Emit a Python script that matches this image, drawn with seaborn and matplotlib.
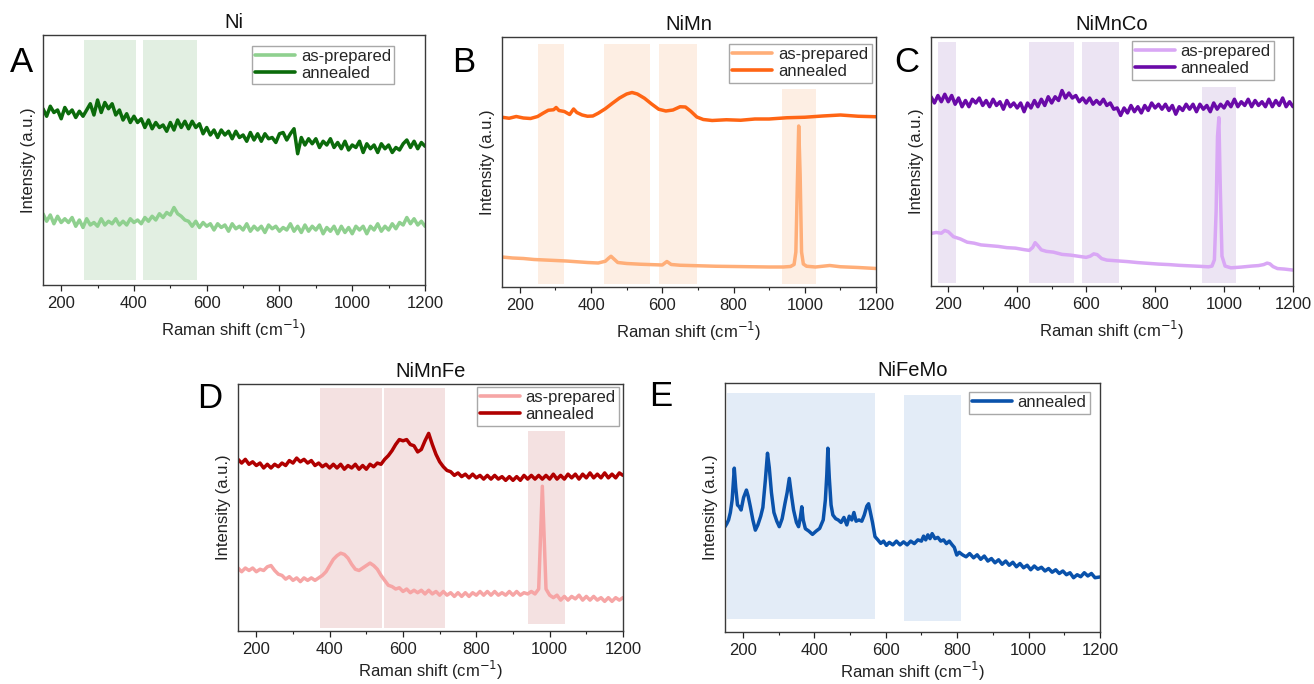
import numpy as np
import matplotlib.pyplot as plt
import seaborn as sns

sns.set_style("ticks")
plt.rcParams['font.family'] = ['Liberation Sans', 'DejaVu Sans']

# shared x grid (Raman shift, cm-1) for the noisy spectra
grid10 = np.arange(150, 1201, 10)

# ---- panel A: Ni ----
ni_prep = [28.5, 25.5, 28, 24.5, 27.5, 25, 26.5, 25, 27, 23.5,
           26, 23, 26.5, 24, 25, 23.5, 26.5, 24, 25.5, 24.5,
           26.5, 24, 25.5, 24, 26.5, 25, 26, 24.5, 27, 25.5,
           27.5, 26, 28.5, 27, 29, 28, 31, 28.5, 27.5, 26,
           25.5, 23.5, 25.5, 23, 25, 23.5, 24.5, 22, 24.5, 23,
           24, 21.5, 24.5, 22.5, 23.5, 22, 24.5, 21.5, 23.5, 22,
           23.5, 21, 24, 22.5, 23.5, 21.5, 23, 22, 24.5, 21.5,
           23.5, 21, 24, 21.5, 23.5, 22, 24, 20.5, 23, 21.5,
           23.5, 20.5, 23.5, 21, 23, 20.5, 23.5, 22, 23.5, 20.5,
           23.5, 22, 24.5, 21.5, 23.5, 22, 24.5, 22.5, 25, 24,
           27, 24.5, 26.5, 24, 25.5, 23.5]
ni_ann = [70.5, 67.5, 71.5, 69, 70, 66.5, 71, 68.5, 70, 67,
          69.5, 67.5, 70, 72.5, 68, 74, 69, 73, 70.5, 72.5,
          68, 70, 66, 68.5, 65, 67.5, 65, 66.5, 63, 66,
          62.5, 65, 63, 64, 61.5, 65, 62, 66, 63, 65.5,
          62.5, 65.5, 63, 64.5, 60.5, 63, 60, 62, 59, 62,
          60, 61.5, 58.5, 61.5, 59, 60, 57.5, 61, 58, 60.5,
          57.5, 60.5, 58.5, 59, 57, 60.5, 61, 58, 60.5, 62.5,
          52.5, 59, 56, 58.5, 56.5, 58.5, 55, 57.5, 56, 58.5,
          55, 57, 54.5, 57.5, 54, 56, 55, 57.5, 53, 56.5,
          54.5, 56, 53, 56.5, 54.5, 56, 53, 55, 54, 56.5,
          58, 55, 57.5, 54.5, 57, 55.5]

# ---- panel B: NiMn ----
nimn_ann_x = [150, 170, 190, 210, 230, 250, 265, 280, 295, 302, 310, 325, 340, 351, 360,
              375, 390, 405, 420, 440, 460, 480, 500, 515, 530, 550, 570, 590, 610, 630,
              650, 665, 680, 697, 715, 740, 780, 820, 860, 900, 950, 1000, 1050, 1100, 1150, 1200]
nimn_ann = [67.9, 67.5, 68.2, 67.6, 67.4, 68.2, 69.5, 70.7, 70.9, 71.8, 70.6, 70.2, 69.0, 71.2, 69.8,
            68.8, 68.3, 68.4, 69.5, 71.3, 73.5, 75.6, 77.2, 77.8, 77.2, 75.5, 73.2, 71.1, 70.4, 70.8,
            72.1, 72.0, 70.3, 68.0, 67.0, 66.6, 66.9, 66.7, 67.2, 67.2, 67.7, 67.9, 68.4, 68.8, 68.3, 68.1]
nimn_prep_x = [150, 180, 210, 240, 270, 300, 330, 360, 390, 420, 440, 450, 456, 462, 475,
               500, 540, 580, 600, 613, 625, 650, 700, 750, 800, 850, 900, 940, 960, 970,
               975, 979, 983, 987, 991, 996, 1005, 1030, 1070, 1100, 1150, 1200]
nimn_prep = [12.0, 11.6, 11.4, 11.0, 10.8, 10.6, 10.4, 10.1, 9.8, 9.6, 10.3, 11.6, 12.3, 11.5, 9.8,
             9.4, 9.1, 8.9, 8.8, 10.2, 9.0, 8.7, 8.5, 8.3, 8.2, 8.1, 8.0, 8.0, 8.2, 9.0,
             14, 40, 64.4, 45, 14, 9.2, 8.3, 8.0, 8.6, 8.1, 7.8, 7.4]

# ---- panel C: NiMnCo ----
nimnco_ann = [76, 73.5, 76.5, 74, 77, 74, 76.5, 73, 75.5, 72,
              74.5, 72, 75, 73.5, 75.5, 72.5, 74.5, 72, 75, 72.5,
              74, 71, 74.5, 72, 73.5, 71.5, 73.5, 70, 73.5, 71.5,
              74.5, 72, 75, 72.5, 76, 73.5, 76, 74.5, 78.5, 75.5,
              77.5, 75.5, 76.5, 74, 75.5, 73.5, 75.5, 73, 74.5, 73,
              75, 72.5, 73.5, 71, 71.5, 68.5, 71.5, 69.5, 72.5, 70,
              72, 69.5, 72.5, 70.5, 73.5, 71.5, 73, 71, 73, 70.5,
              72.5, 69, 72, 70.5, 73, 71, 73, 70, 73, 71,
              72.5, 70, 73.5, 71, 73, 71.5, 74, 72, 75, 72,
              74, 72.5, 75, 72, 74.5, 72.5, 74, 72, 75, 72,
              74.5, 72.5, 75.5, 72, 74, 72]
nimnco_prep_x = [150, 165, 180, 190, 200, 215, 235, 255, 275, 295, 320, 345, 370, 395, 420,
                 435, 445, 452, 460, 470, 485, 505, 530, 555, 580, 600, 612, 622, 632, 645,
                 660, 690, 720, 750, 780, 810, 840, 870, 900, 930, 955, 965, 972, 977, 981,
                 985, 989, 994, 1003, 1020, 1050, 1080, 1100, 1115, 1125, 1133, 1142, 1155, 1175, 1200]
nimnco_prep = [21.1, 21.5, 21.2, 22.3, 21.8, 19.8, 18.9, 17.6, 17.2, 16.5, 16.2, 15.9, 15.4, 15.2, 14.6,
               14.3, 15.5, 17.4, 16.2, 14.5, 13.9, 13.6, 12.7, 12.4, 11.9, 11.5, 12.0, 12.9, 12.6, 11.0,
               10.4, 10.1, 9.8, 9.4, 9.1, 8.8, 8.6, 8.3, 8.1, 7.9, 7.7, 8.0, 10.5, 30, 60,
               67.6, 40, 12, 8.0, 7.3, 7.6, 8.0, 8.2, 8.6, 9.2, 8.9, 7.8, 7.0, 6.8, 6.4]

# ---- panel D: NiMnFe ----
nimnfe_prep = [25.5, 24, 25.5, 24.5, 25.5, 24, 25, 24.5, 26, 26.5,
               24.5, 23, 22.5, 21, 22, 20.5, 21.5, 20, 21.5, 20.5,
               21.5, 20.5, 21.5, 22.5, 24, 26.5, 29, 30.5, 31.5, 31,
               29.5, 27, 25, 24.5, 25.5, 26.5, 27.5, 26.5, 25, 22.5,
               20.5, 18.5, 18, 17, 17.5, 16, 17, 15.5, 16.5, 15.5,
               16.5, 15, 16.5, 15, 16, 14.5, 16, 14.5, 15.5, 14,
               15.5, 14, 15.5, 14, 15.5, 14.5, 16, 14.5, 16, 14.5,
               16, 14.5, 15.5, 14.5, 16, 14.5, 16, 14.5, 15.5, 15,
               16, 15, 17, 58.6, 17, 14.5, 13.5, 14.5, 12.5, 14,
               12.5, 14, 13, 14.5, 12.5, 14, 12.5, 14, 12.5, 13.5,
               12, 13.5, 12, 13.5, 12.5, 13.5]
nimnfe_ann = [69.5, 68, 69.5, 67.5, 68.5, 67, 68, 66, 67.5, 66,
              67.5, 66.5, 68, 67, 69, 68, 70, 68.5, 69.5, 68,
              69, 67, 68, 66.5, 67.5, 66, 67.5, 66, 67.5, 65.5,
              67, 66, 67.5, 65.5, 67, 65.5, 67.5, 66.5, 68, 67.5,
              69.5, 71, 73, 75.5, 77.5, 77, 77.5, 75.5, 75, 72.5,
              73.5, 77, 80, 75.5, 71.5, 68.5, 66.5, 65, 64.5, 63,
              64, 62.5, 63.5, 62, 63.5, 62, 63, 61.5, 63, 61.5,
              63, 61.5, 62.5, 61, 62.5, 61, 62.5, 61, 63, 61.5,
              63, 61.5, 63, 61.5, 63, 61.5, 63.5, 61.5, 63, 61.5,
              63.5, 62, 63.5, 61.5, 63.5, 62, 64, 62, 63.5, 62,
              64, 62, 63.5, 62, 64, 63]

# ---- panel E: NiFeMo (shift, intensity) ----
nifemo_ann = [(150, 42.3), (155, 43.5), (160, 45), (165, 48), (170, 53), (176, 65.8), (180, 58),
              (185, 51), (190, 50.3), (195, 49), (202, 54), (210, 57), (215, 54.5), (221, 50.3),
              (228, 45), (235, 40.9), (242, 43), (250, 46.5), (256, 50), (263, 61), (269, 71.8),
              (274, 66), (280, 56), (287, 48), (295, 44.5), (302, 42.3), (310, 45.5), (318, 51.7),
              (324, 56), (330, 61.7), (336, 55), (342, 49), (350, 44), (356, 42.3), (361, 46),
              (365, 50.3), (369, 45), (375, 41.5), (385, 40.5), (395, 39.2), (405, 40.5), (415, 41.6),
              (425, 45), (431, 53), (435, 63), (438, 73.8), (442, 62), (447, 51), (452, 47),
              (460, 45.5), (467, 45), (475, 44), (483, 46), (491, 43), (498, 46.5), (505, 45),
              (511, 48), (517, 44.5), (525, 45), (533, 44.5), (540, 47), (547, 50.5), (552, 51.5),
              (557, 48), (563, 44), (570, 38.3), (578, 37), (586, 35.6), (594, 36.5), (602, 34.8),
              (610, 36), (620, 35), (630, 36.5), (640, 35), (650, 36.2), (660, 35), (670, 36.5),
              (680, 35.5), (690, 37), (700, 36.5), (706, 38.5), (712, 37), (718, 39), (724, 37.5),
              (730, 39.5), (738, 37.5), (746, 38), (754, 36.5), (762, 37), (770, 35.5), (778, 36.5),
              (786, 35), (792, 34), (799, 30.9), (806, 32), (815, 31), (825, 30.2), (835, 31.5),
              (846, 29.8), (856, 31), (866, 29.2), (876, 30.5), (886, 28.5), (896, 29.5), (906, 27.8),
              (916, 29), (926, 27.2), (936, 28.5), (946, 26.8), (956, 28), (966, 26.2), (976, 27.5),
              (986, 25.8), (996, 26.8), (1006, 25), (1016, 26.5), (1026, 25.2), (1036, 26), (1046, 24.5),
              (1056, 25.5), (1066, 24), (1076, 25), (1086, 23.5), (1096, 24.5), (1106, 23), (1116, 23.8),
              (1126, 21.8), (1136, 23), (1146, 22.2), (1156, 23.8), (1166, 22.5), (1176, 23.5),
              (1186, 21.8), (1200, 22.1)]

W, H = 1314, 684
fig = plt.figure(figsize=(W / 100, H / 100), dpi=100)
FS = 12


def make_ax(left, right, top, bottom, xpad=5):
    ax = fig.add_axes([left / W, 1 - bottom / H, (right - left) / W, (bottom - top) / H])
    ax.set_xlim(150, 1200)
    ax.set_ylim(0, 100)
    ax.set_yticks([])
    ax.set_xticks(range(200, 1201, 200))
    ax.set_xticks(range(300, 1200, 200), minor=True)
    ax.tick_params(axis='x', which='major', direction='out', length=4, width=0.9,
                   labelsize=FS, colors='#222222', pad=4)
    ax.tick_params(axis='x', which='minor', direction='out', length=2.5, width=0.8, colors='#222222')
    for s in ax.spines.values():
        s.set_visible(True)
        s.set_linewidth(1.0)
        s.set_color('#3a3a3a')
    ax.set_ylabel('Intensity (a.u.)', fontsize=FS, labelpad=5, color='#222222')
    ax.set_xlabel('Raman shift (cm$^{-1}$)', fontsize=FS, labelpad=xpad, color='#222222')
    return ax


def finish(ax, title, anchor):
    ax.set_title(title, fontsize=14.5, pad=5, color='#111111')
    leg = ax.legend(loc='upper right', bbox_to_anchor=anchor, borderaxespad=0,
                    fontsize=FS, frameon=True, fancybox=False, framealpha=1,
                    edgecolor='#a8a8a8', handlelength=2.4, handletextpad=0.35,
                    labelspacing=0.12, borderpad=0.2)
    leg.get_frame().set_linewidth(1.0)
    for ln in leg.get_lines():
        ln.set_linewidth(2.6)


lw = 2.5

# A
ax = make_ax(43, 425, 35, 285)
for a, b in [(262, 406), (425, 574)]:
    ax.axvspan(a, b, 0.02, 0.98, color='#e2efe2', lw=0)
sns.lineplot(x=grid10, y=ni_prep, ax=ax, color='#8fd08f', lw=lw, label='as-prepared')
sns.lineplot(x=grid10, y=ni_ann, ax=ax, color='#0b6b0b', lw=lw, label='annealed')
finish(ax, 'Ni', (0.92, 0.958))

# B
ax = make_ax(502, 876, 37, 287)
for a, b in [(251, 323), (435, 566), (591, 697)]:
    ax.axvspan(a, b, 0.013, 0.973, color='#fdeee3', lw=0)
ax.axvspan(935, 1032, 0.013, 0.79, color='#fdeee3', lw=0)
sns.lineplot(x=nimn_prep_x, y=nimn_prep, ax=ax, color='#ffae78', lw=lw, label='as-prepared')
sns.lineplot(x=nimn_ann_x, y=nimn_ann, ax=ax, color='#ff6514', lw=lw, label='annealed')
finish(ax, 'NiMn', (0.988, 0.972))

# C
ax = make_ax(931, 1293, 37, 286)
for a, b in [(169, 223), (433, 565), (589, 696)]:
    ax.axvspan(a, b, 0.013, 0.98, color='#ece4f3', lw=0)
ax.axvspan(935, 1034, 0.013, 0.80, color='#ece4f3', lw=0)
sns.lineplot(x=nimnco_prep_x, y=nimnco_prep, ax=ax, color='#d9a7f5', lw=lw, label='as-prepared')
sns.lineplot(x=grid10, y=nimnco_ann, ax=ax, color='#6a0aa8', lw=lw, label='annealed')
finish(ax, 'NiMnCo', (0.948, 0.984))

# D
ax = make_ax(238, 623, 384, 631, xpad=1)
for a, b in [(373, 542), (548, 715)]:
    ax.axvspan(a, b, 0.014, 0.985, color='#f4e1e1', lw=0)
ax.axvspan(940, 1042, 0.03, 0.81, color='#f4e1e1', lw=0)
sns.lineplot(x=grid10, y=nimnfe_prep, ax=ax, color='#f6a5a5', lw=lw, label='as-prepared')
sns.lineplot(x=grid10, y=nimnfe_ann, ax=ax, color='#b00000', lw=lw, label='annealed')
finish(ax, 'NiMnFe', (0.99, 0.988))

# E
ax = make_ax(725, 1100, 383, 632, xpad=1)
ax.axvspan(156, 569, 0.051, 0.96, color='#e3ecf7', lw=0)
ax.axvspan(650, 810, 0.043, 0.953, color='#e3ecf7', lw=0)
ex, ey = zip(*nifemo_ann)
sns.lineplot(x=list(ex), y=list(ey), ax=ax, color='#0a52ab', lw=lw, label='annealed',
             sort=False, estimator=None)
finish(ax, 'NiFeMo', (0.973, 0.964))

# panel letters
for letter, px, py in [('A', 21, 63), ('B', 464, 63), ('C', 907, 63), ('D', 210, 399), ('E', 661, 397)]:
    fig.text(px / W, 1 - py / H, letter, fontsize=25, ha='center', va='center', color='#000000')

fig.savefig('out.png', dpi=100)
